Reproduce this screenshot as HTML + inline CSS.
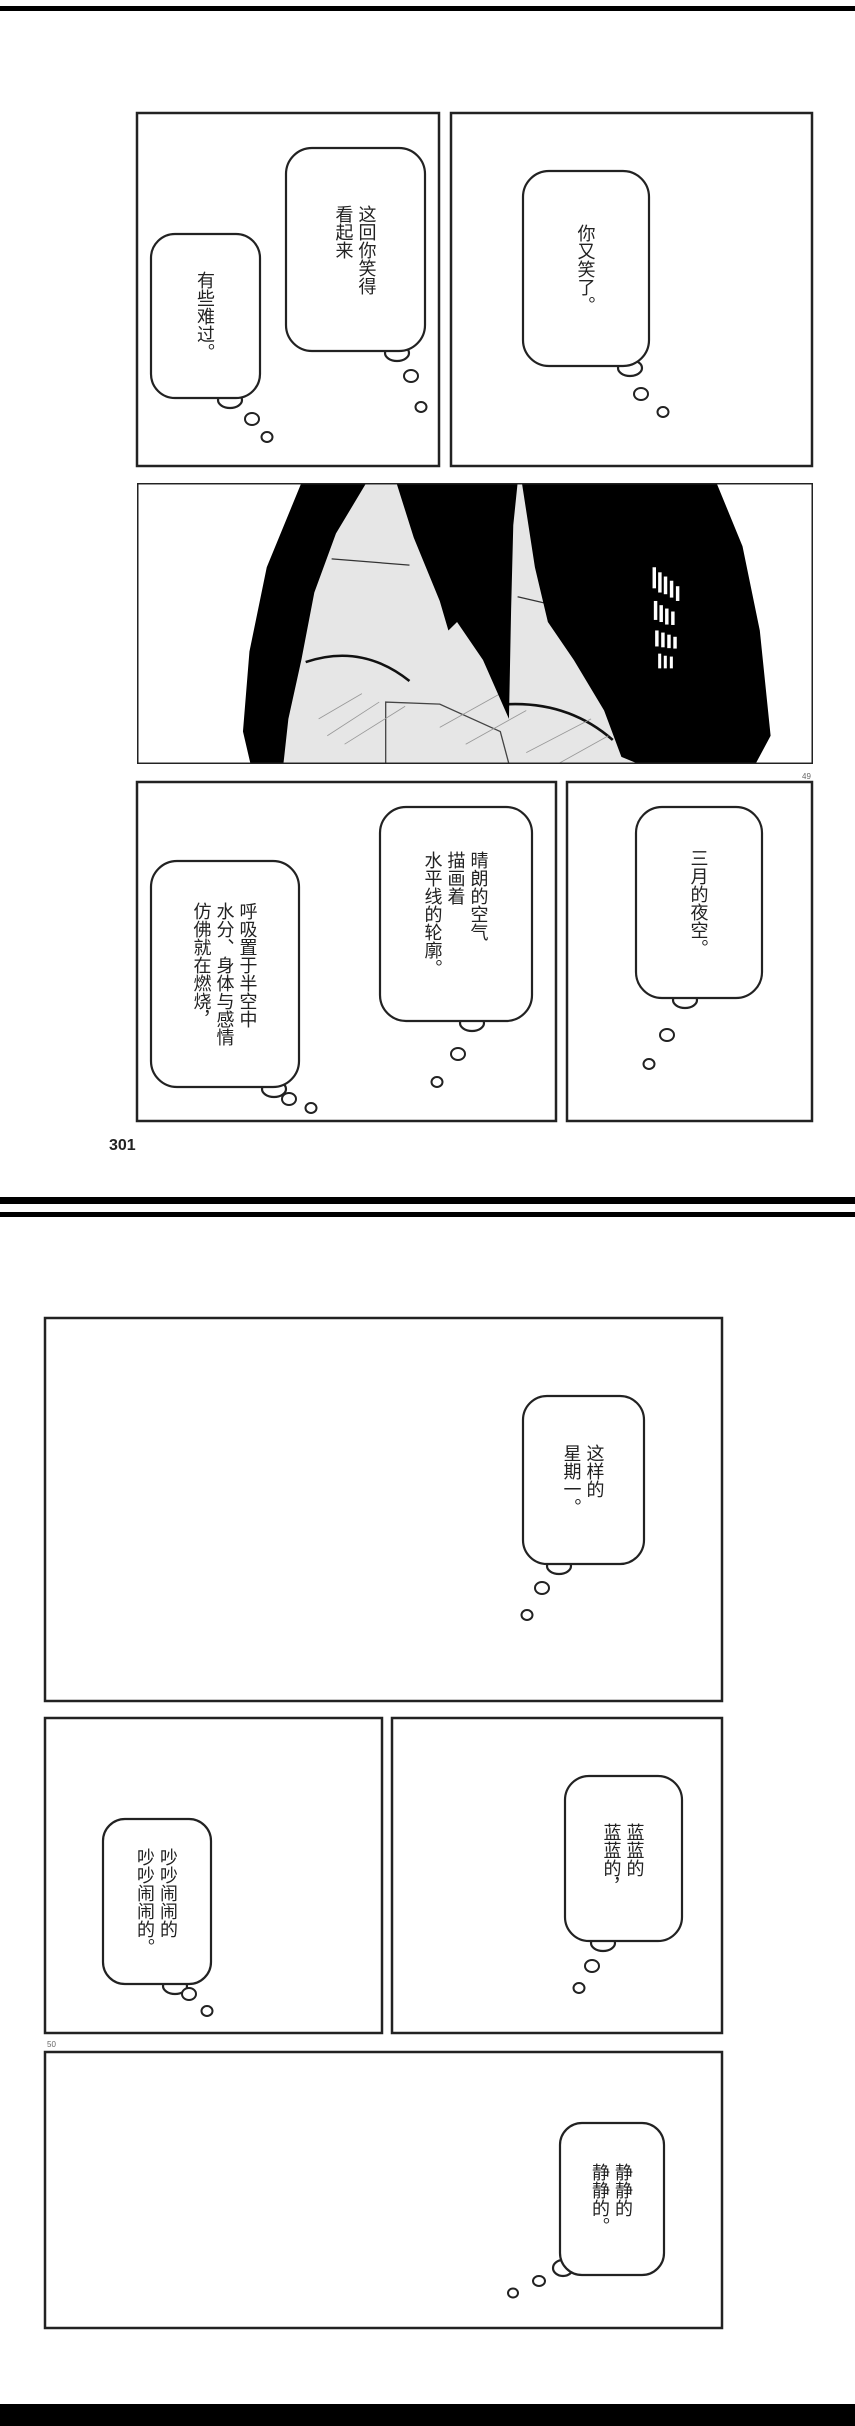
<!DOCTYPE html>
<html><head><meta charset="utf-8">
<style>
html,body{margin:0;padding:0;background:#fff;}
body{width:855px;height:2426px;position:relative;overflow:hidden;font-family:"Liberation Sans","Noto Sans CJK SC",sans-serif;}
.t{position:absolute;display:flex;align-items:center;justify-content:center;}
.v{writing-mode:vertical-rl;font-family:"Noto Sans CJK SC",sans-serif;font-size:18px;line-height:23px;letter-spacing:0;color:#222;}
</style></head><body>
<svg width="855" height="2426" style="position:absolute;left:0;top:0" xmlns="http://www.w3.org/2000/svg">
<g fill="#000">
<rect x="0" y="6" width="855" height="5"/>
<rect x="0" y="1197" width="855" height="7"/>
<rect x="0" y="1212" width="855" height="5"/>
<rect x="0" y="2404" width="855" height="22"/>
</g>
<g fill="none" stroke="#222" stroke-width="2.5">
<rect x="137" y="113" width="302" height="353"/>
<rect x="451" y="113" width="361" height="353"/>
<rect x="137" y="782" width="419" height="339"/>
<rect x="567" y="782" width="245" height="339"/>
<rect x="45" y="1318" width="677" height="383"/>
<rect x="45" y="1718" width="337" height="315"/>
<rect x="392" y="1718" width="330" height="315"/>
<rect x="45" y="2052" width="677" height="276"/>
</g>
<svg x="137" y="483" width="676" height="281" viewBox="0 0 1563 667" preserveAspectRatio="none">
<rect width="1563" height="667" fill="#fff"/>
<polygon points="420,0 1250,0 1250,667 340,667 330,400" fill="#e6e6e6"/>
<path d="M390,425 Q520,380 630,470" stroke="#111" stroke-width="6" fill="none"/>
<path d="M860,525 Q1000,520 1100,610" stroke="#111" stroke-width="6" fill="none"/>
<path d="M450,180 L630,195 M880,270 L1090,320" stroke="#333" stroke-width="3" fill="none"/>
<path d="M575,665 L575,520 L700,525 L840,590 L860,667" stroke="#444" stroke-width="3" fill="none"/>
<g stroke="#999" stroke-width="2">
<path d="M420,560 L520,500 M440,600 L560,520 M480,620 L620,530 M700,580 L840,500 M760,620 L900,540 M900,640 L1050,560 M950,680 L1090,600"/>
</g>
<polygon fill="#000" points="380,0 530,0 460,120 410,260 380,420 350,560 335,700 340,667 295,667 270,700 245,590 260,400 300,200"/>
<polygon fill="#000" points="600,0 880,0 870,100 865,300 860,560 800,420 740,330 720,350 700,280 640,130"/>
<polygon fill="#000" points="890,0 1340,0 1400,150 1440,350 1465,600 1430,667 1160,667 1120,650 1080,540 1010,420 950,330 920,200"/>
<polygon fill="#000" points="1040,60 1080,220 1120,420 1100,300"/>
<g fill="#fff">
<rect x="1192" y="200" width="8" height="50"/><rect x="1205" y="212" width="8" height="48"/><rect x="1218" y="222" width="8" height="42"/><rect x="1232" y="232" width="8" height="40"/><rect x="1246" y="245" width="8" height="35"/>
<rect x="1195" y="280" width="8" height="45"/><rect x="1208" y="290" width="8" height="40"/><rect x="1221" y="298" width="8" height="38"/><rect x="1235" y="305" width="8" height="32"/>
<rect x="1198" y="350" width="8" height="38"/><rect x="1212" y="355" width="8" height="35"/><rect x="1226" y="360" width="8" height="32"/><rect x="1240" y="365" width="8" height="28"/>
<rect x="1205" y="405" width="7" height="35"/><rect x="1218" y="410" width="7" height="30"/><rect x="1232" y="412" width="7" height="28"/>
</g>
<rect x="1" y="1" width="1561" height="665" fill="none" stroke="#222" stroke-width="5"/>
</svg>
<g fill="#fff" stroke="#222" stroke-width="2.2">
<ellipse cx="230" cy="400" rx="12" ry="8"/><rect x="151" y="234" width="109" height="164" rx="24"/>
<ellipse cx="397" cy="353" rx="12" ry="8"/><rect x="286" y="148" width="139" height="203" rx="26"/>
<ellipse cx="630" cy="368" rx="12" ry="8"/><rect x="523" y="171" width="126" height="195" rx="26"/>
<ellipse cx="274" cy="1089" rx="12" ry="8"/><rect x="151" y="861" width="148" height="226" rx="26"/>
<ellipse cx="472" cy="1023" rx="12" ry="8"/><rect x="380" y="807" width="152" height="214" rx="26"/>
<ellipse cx="685" cy="1000" rx="12" ry="8"/><rect x="636" y="807" width="126" height="191" rx="26"/>
<ellipse cx="559" cy="1566" rx="12" ry="8"/><rect x="523" y="1396" width="121" height="168" rx="24"/>
<ellipse cx="175" cy="1986" rx="12" ry="8"/><rect x="103" y="1819" width="108" height="165" rx="22"/>
<ellipse cx="603" cy="1943" rx="12" ry="8"/><rect x="565" y="1776" width="117" height="165" rx="24"/>
<ellipse cx="563" cy="2268" rx="10" ry="8"/><rect x="560" y="2123" width="104" height="152" rx="22"/>
</g>
<g fill="#fff" stroke="#222" stroke-width="2">
<ellipse cx="252" cy="419" rx="7" ry="6"/><ellipse cx="267" cy="437" rx="5.5" ry="5"/>
<ellipse cx="411" cy="376" rx="7" ry="6"/><ellipse cx="421" cy="407" rx="5.5" ry="5"/>
<ellipse cx="641" cy="394" rx="7" ry="6"/><ellipse cx="663" cy="412" rx="5.5" ry="5"/>
<ellipse cx="289" cy="1099" rx="7" ry="6"/><ellipse cx="311" cy="1108" rx="5.5" ry="5"/>
<ellipse cx="458" cy="1054" rx="7" ry="6"/><ellipse cx="437" cy="1082" rx="5.5" ry="5"/>
<ellipse cx="667" cy="1035" rx="7" ry="6"/><ellipse cx="649" cy="1064" rx="5.5" ry="5"/>
<ellipse cx="542" cy="1588" rx="7" ry="6"/><ellipse cx="527" cy="1615" rx="5.5" ry="5"/>
<ellipse cx="189" cy="1994" rx="7" ry="6"/><ellipse cx="207" cy="2011" rx="5.5" ry="5"/>
<ellipse cx="592" cy="1966" rx="7" ry="6"/><ellipse cx="579" cy="1988" rx="5.5" ry="5"/>
<ellipse cx="539" cy="2281" rx="6" ry="5"/><ellipse cx="513" cy="2293" rx="5" ry="4.5"/>
</g>
<text x="109" y="1150" font-family="Liberation Sans" font-weight="bold" font-size="16" fill="#222">301</text>
<text x="802" y="779" font-family="Liberation Sans" font-size="8" fill="#666">49</text>
<text x="47" y="2047" font-family="Liberation Sans" font-size="8" fill="#666">50</text>
</svg>
<div class="t" style="left:151px;top:234px;width:109px;height:164px"><div class="v">有些难过。</div></div>
<div class="t" style="left:286px;top:148px;width:139px;height:203px"><div class="v">这回你笑得<br>看起来</div></div>
<div class="t" style="left:523px;top:171px;width:126px;height:195px"><div class="v">你又笑了。</div></div>
<div class="t" style="left:151px;top:861px;width:148px;height:226px"><div class="v">呼吸置于半空中<br>水分、身体与感情<br>仿佛就在燃烧，</div></div>
<div class="t" style="left:380px;top:807px;width:152px;height:214px"><div class="v">晴朗的空气<br>描画着<br>水平线的轮廓。</div></div>
<div class="t" style="left:636px;top:807px;width:126px;height:191px"><div class="v">三月的夜空。</div></div>
<div class="t" style="left:523px;top:1396px;width:121px;height:168px"><div class="v">这样的<br>星期一。</div></div>
<div class="t" style="left:103px;top:1819px;width:108px;height:165px"><div class="v">吵吵闹闹的<br>吵吵闹闹的。</div></div>
<div class="t" style="left:565px;top:1776px;width:117px;height:165px"><div class="v">蓝蓝的<br>蓝蓝的，</div></div>
<div class="t" style="left:560px;top:2123px;width:104px;height:152px"><div class="v">静静的<br>静静的。</div></div>
</body></html>
